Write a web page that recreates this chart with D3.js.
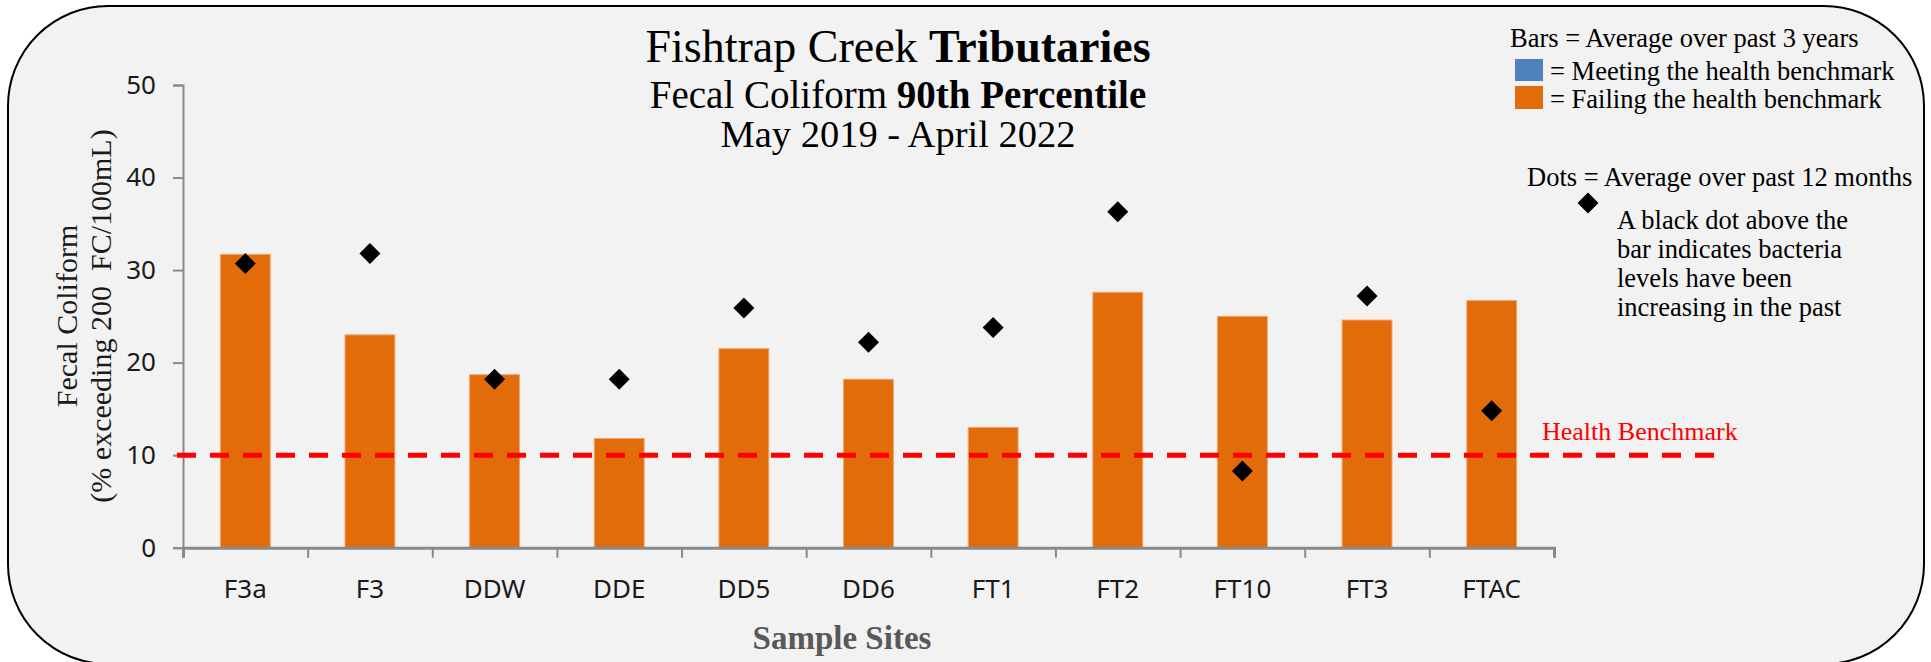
<!DOCTYPE html>
<html>
<head>
<meta charset="utf-8">
<script src="https://cdn.jsdelivr.net/npm/d3@7"></script>
<style>
  body { margin: 0; background: #ffffff; }
  svg { display: block; }
</style>
</head>
<body>
<svg id="chart"></svg>
<script>
// data
var sites = ["F3a", "F3", "DDW", "DDE", "DD5", "DD6", "FT1", "FT2", "FT10", "FT3", "FTAC"];
var avg3yr = [31.7, 23.0, 18.7, 11.8, 21.5, 18.2, 13.0, 27.6, 25.0, 24.6, 26.7];
var avg12mo = [30.7, 31.8, 18.2, 18.2, 25.9, 22.2, 23.8, 36.3, 8.3, 27.2, 14.8];
var yTicks = [0, 10, 20, 30, 40, 50];
var benchmark = 10;

var width = 1931, height = 662;
var serif = "'Liberation Serif', 'DejaVu Serif', serif";
var sans = "'Noto Sans', 'Open Sans', sans-serif";
var orange = "#E36C0A", blue = "#4F81BD";

var svg = d3.select("#chart")
    .attr("width", width)
    .attr("height", height);

// rounded panel behind everything
svg.append("rect")
    .attr("x", 8).attr("y", 6)
    .attr("width", 1916).attr("height", 658)
    .attr("rx", 100).attr("ry", 100)
    .attr("fill", "#F2F2F2")
    .attr("stroke", "#000")
    .attr("stroke-width", 2);

// scales
var x = d3.scaleBand()
    .domain(sites)
    .range([183, 1554])
    .paddingInner(0.6)
    .paddingOuter(0.3);

var xEdge = d3.scaleLinear()
    .domain([0, sites.length])
    .range([183, 1554]);

var y = d3.scaleLinear()
    .domain([0, 50])
    .range([547.7, 85]);

// y axis
var yAxis = svg.append("g")
    .attr("transform", "translate(183,0)")
    .call(d3.axisLeft(y).tickValues(yTicks).tickSize(10).tickPadding(17));
yAxis.select(".domain").attr("stroke", "#898989").attr("stroke-width", 2);
yAxis.selectAll(".tick line").attr("stroke", "#898989").attr("stroke-width", 2);
yAxis.selectAll(".tick text")
    .attr("font-family", sans)
    .attr("font-size", 26)
    .attr("fill", "#1a1a1a");

// bars
svg.append("g").selectAll("rect")
    .data(avg3yr)
    .enter()
    .append("rect")
    .attr("x", function(d, i) { return x(sites[i]); })
    .attr("y", function(d) { return y(d); })
    .attr("width", x.bandwidth())
    .attr("height", function(d) { return y(0) - y(d); })
    .attr("fill", function(d) { return d > benchmark ? orange : blue; })
    .attr("stroke", "#F2A46A")
    .attr("stroke-width", 1);

// x axis: boundary ticks
var xAxis = svg.append("g")
    .attr("transform", "translate(0," + y(0) + ")")
    .call(d3.axisBottom(xEdge).tickValues(d3.range(sites.length + 1)).tickSize(10).tickFormat(""));
xAxis.select(".domain").attr("stroke", "#898989").attr("stroke-width", 3);
xAxis.selectAll(".tick line").attr("stroke", "#898989").attr("stroke-width", 2);

// x labels
var xLabels = svg.append("g")
    .attr("transform", "translate(0," + y(0) + ")")
    .call(d3.axisBottom(x).tickSize(0).tickPadding(0));
xLabels.select(".domain").remove();
xLabels.selectAll(".tick text")
    .attr("y", 41)
    .attr("dy", "0.35em")
    .attr("font-family", sans)
    .attr("font-size", 26)
    .attr("fill", "#1a1a1a");

// health benchmark line
svg.append("line")
    .attr("x1", 177).attr("x2", 1714)
    .attr("y1", y(benchmark)).attr("y2", y(benchmark))
    .attr("stroke", "#FF0000")
    .attr("stroke-width", 5)
    .attr("stroke-dasharray", "19,14");

svg.append("text")
    .attr("x", 1542).attr("y", 440)
    .attr("font-family", serif)
    .attr("font-size", 26)
    .attr("fill", "#FF0000")
    .text("Health Benchmark");

// 12 month dots
var diamond = d3.symbol().type(d3.symbolSquare).size(220);
svg.append("g").selectAll("path")
    .data(avg12mo)
    .enter()
    .append("path")
    .attr("d", diamond)
    .attr("transform", function(d, i) {
        return "translate(" + (x(sites[i]) + x.bandwidth() / 2) + "," + y(d) + ") rotate(45)";
    })
    .attr("fill", "#000");

// titles
var title = svg.append("g")
    .attr("font-family", serif)
    .attr("fill", "#000")
    .attr("text-anchor", "middle");
var t1 = title.append("text").attr("x", 898).attr("y", 62).attr("font-size", 46);
t1.append("tspan").text("Fishtrap Creek ");
t1.append("tspan").attr("font-weight", "bold").text("Tributaries");
var t2 = title.append("text").attr("x", 898).attr("y", 108).attr("font-size", 39);
t2.append("tspan").text("Fecal Coliform ");
t2.append("tspan").attr("font-weight", "bold").text("90th Percentile");
title.append("text").attr("x", 898).attr("y", 147).attr("font-size", 38.5)
    .text("May 2019 - April 2022");

// axis titles
svg.append("text")
    .attr("x", 842).attr("y", 649)
    .attr("text-anchor", "middle")
    .attr("font-family", serif)
    .attr("font-weight", "bold")
    .attr("font-size", 33)
    .attr("fill", "#595959")
    .text("Sample Sites");

var yTitle = svg.append("text")
    .attr("transform", "translate(0,316) rotate(-90)")
    .attr("text-anchor", "middle")
    .attr("font-family", serif)
    .attr("font-size", 30)
    .attr("fill", "#1a1a1a")
    .style("white-space", "pre");
yTitle.append("tspan").attr("x", 0).attr("y", 77).text("Fecal Coliform");
yTitle.append("tspan").attr("x", 0).attr("y", 111).text("(% exceeding 200  FC/100mL)");

// legend
var legend = svg.append("g")
    .attr("font-family", serif)
    .attr("font-size", 26.5)
    .attr("fill", "#000");
legend.append("text").attr("x", 1510).attr("y", 47).text("Bars = Average over past 3 years");
legend.append("rect").attr("x", 1515).attr("y", 59).attr("width", 28).attr("height", 22).attr("fill", blue);
legend.append("rect").attr("x", 1515).attr("y", 86).attr("width", 28).attr("height", 23).attr("fill", orange);
legend.append("text").attr("x", 1550).attr("y", 80).text("= Meeting the health benchmark");
legend.append("text").attr("x", 1550).attr("y", 108).text("= Failing the health benchmark");
legend.append("text").attr("x", 1527).attr("y", 186).text("Dots = Average over past 12 months");
legend.append("path")
    .attr("d", diamond)
    .attr("transform", "translate(1588,203) rotate(45)")
    .attr("fill", "#000");
var note = ["A black dot above the", "bar indicates bacteria", "levels have been", "increasing in the past"];
legend.selectAll(".note")
    .data(note)
    .enter()
    .append("text")
    .attr("class", "note")
    .attr("x", 1617)
    .attr("y", function(d, i) { return 229 + i * 29; })
    .text(function(d) { return d; });
</script>
</body>
</html>
